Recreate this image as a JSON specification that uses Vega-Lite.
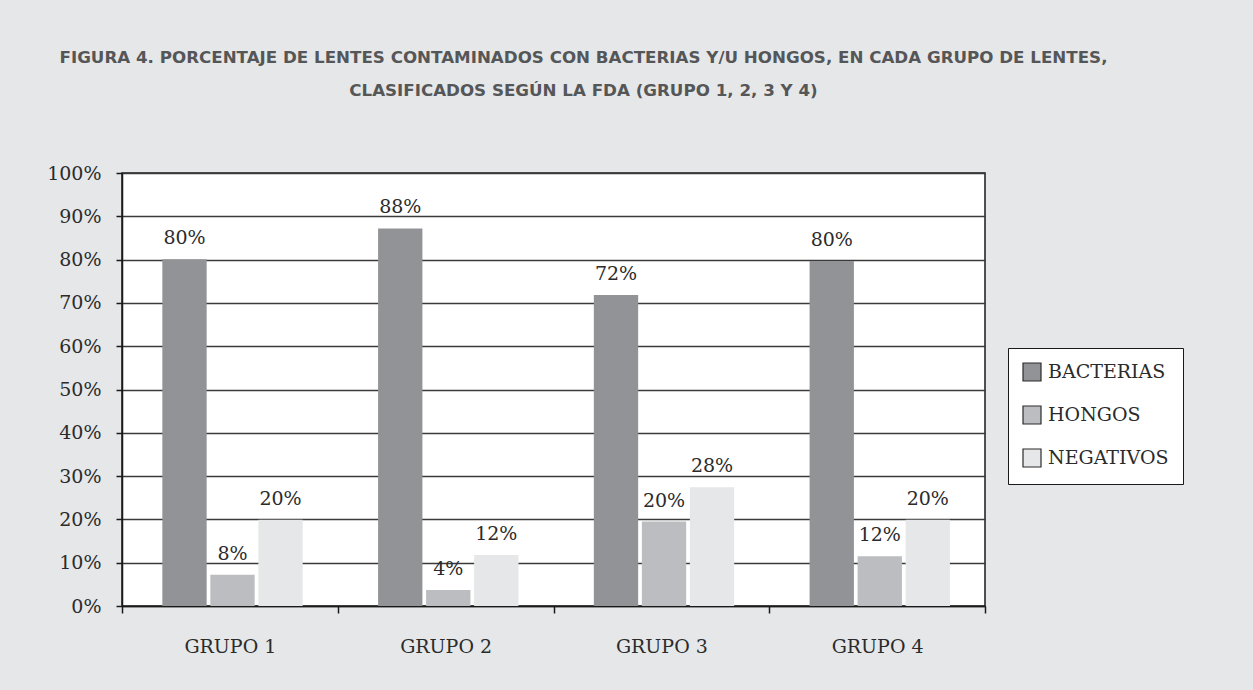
{
  "$schema": "https://vega.github.io/schema/vega-lite/v6.json",
  "width": 863,
  "height": 433,
  "autosize": {"type": "none"},
  "padding": {"left": 122, "top": 173, "right": 268, "bottom": 84},
  "background": "#e6e7e8",
  "title": {
    "text": ["FIGURA 4. PORCENTAJE DE LENTES CONTAMINADOS CON BACTERIAS Y/U HONGOS, EN CADA GRUPO DE LENTES,", "CLASIFICADOS SEGÚN LA FDA (GRUPO 1, 2, 3 Y 4)"],
    "font": "DejaVu Sans",
    "fontSize": 16.7,
    "fontWeight": "bold",
    "color": "#555658",
    "lineHeight": 33,
    "anchor": "middle",
    "frame": "group",
    "dx": 30,
    "offset": 64
  },
  "data": {
    "values": [
      {"grupo": "GRUPO 1", "tipo": "BACTERIAS", "valor": 0.801, "etiqueta": "80%"},
      {"grupo": "GRUPO 1", "tipo": "HONGOS", "valor": 0.072, "etiqueta": "8%"},
      {"grupo": "GRUPO 1", "tipo": "NEGATIVOS", "valor": 0.199, "etiqueta": "20%"},
      {"grupo": "GRUPO 2", "tipo": "BACTERIAS", "valor": 0.872, "etiqueta": "88%"},
      {"grupo": "GRUPO 2", "tipo": "HONGOS", "valor": 0.037, "etiqueta": "4%"},
      {"grupo": "GRUPO 2", "tipo": "NEGATIVOS", "valor": 0.118, "etiqueta": "12%"},
      {"grupo": "GRUPO 3", "tipo": "BACTERIAS", "valor": 0.718, "etiqueta": "72%"},
      {"grupo": "GRUPO 3", "tipo": "HONGOS", "valor": 0.195, "etiqueta": "20%"},
      {"grupo": "GRUPO 3", "tipo": "NEGATIVOS", "valor": 0.274, "etiqueta": "28%"},
      {"grupo": "GRUPO 4", "tipo": "BACTERIAS", "valor": 0.797, "etiqueta": "80%"},
      {"grupo": "GRUPO 4", "tipo": "HONGOS", "valor": 0.115, "etiqueta": "12%"},
      {"grupo": "GRUPO 4", "tipo": "NEGATIVOS", "valor": 0.199, "etiqueta": "20%"}
    ]
  },
  "encoding": {
    "x": {
      "field": "grupo",
      "type": "nominal",
      "scale": {"paddingInner": 0, "paddingOuter": 0},
      "axis": {
        "title": null,
        "labelAngle": 0,
        "tickBand": "extent",
        "tickSize": 7,
        "tickColor": "#1a1a1a",
        "tickWidth": 1.5,
        "domainColor": "#1a1a1a",
        "domainWidth": 1.5,
        "labelPadding": 24,
        "labelFont": "DejaVu Serif",
        "labelFontSize": 19,
        "labelColor": "#2b2b2b"
      }
    },
    "xOffset": {
      "field": "tipo",
      "type": "nominal",
      "scale": {"paddingInner": 0.077, "paddingOuter": 0.785, "align": 0.535}
    },
    "y": {
      "field": "valor",
      "type": "quantitative",
      "scale": {"domain": [0, 1], "nice": false},
      "axis": {
        "title": null,
        "values": [0, 0.1, 0.2, 0.3, 0.4, 0.5, 0.6, 0.7, 0.8, 0.9, 1],
        "format": ".0%",
        "tickSize": 6,
        "tickColor": "#1a1a1a",
        "tickWidth": 1.5,
        "domainColor": "#1a1a1a",
        "domainWidth": 1.5,
        "grid": true,
        "gridColor": "#3a3a3a",
        "gridWidth": 1.5,
        "labelPadding": 15,
        "labelFont": "DejaVu Serif",
        "labelFontSize": 19,
        "labelColor": "#2b2b2b"
      }
    }
  },
  "layer": [
    {
      "mark": {"type": "bar"},
      "encoding": {
        "color": {
          "field": "tipo",
          "type": "nominal",
          "scale": {"domain": ["BACTERIAS", "HONGOS", "NEGATIVOS"], "range": ["#929396", "#bcbdc0", "#e6e7e8"]},
          "legend": {
            "title": null,
            "orient": "none",
            "legendX": 886,
            "legendY": 175,
            "fillColor": "#ffffff",
            "strokeColor": "#1a1a1a",
            "padding": 14,
            "symbolType": "square",
            "symbolSize": 324,
            "symbolStrokeColor": "#2b2b2b",
            "symbolStrokeWidth": 1.2,
            "labelFont": "DejaVu Serif",
            "labelFontSize": 19,
            "labelColor": "#2b2b2b",
            "labelOffset": 6,
            "labelLimit": 400,
            "rowPadding": 19
          }
        }
      }
    },
    {
      "mark": {"type": "text", "baseline": "alphabetic", "dy": -15, "font": "DejaVu Serif", "fontSize": 19, "color": "#2b2b2b"},
      "encoding": {
        "text": {"field": "etiqueta", "type": "nominal"}
      }
    }
  ],
  "config": {
    "view": {"fill": "#ffffff", "stroke": "#1a1a1a", "strokeWidth": 1.5}
  }
}
